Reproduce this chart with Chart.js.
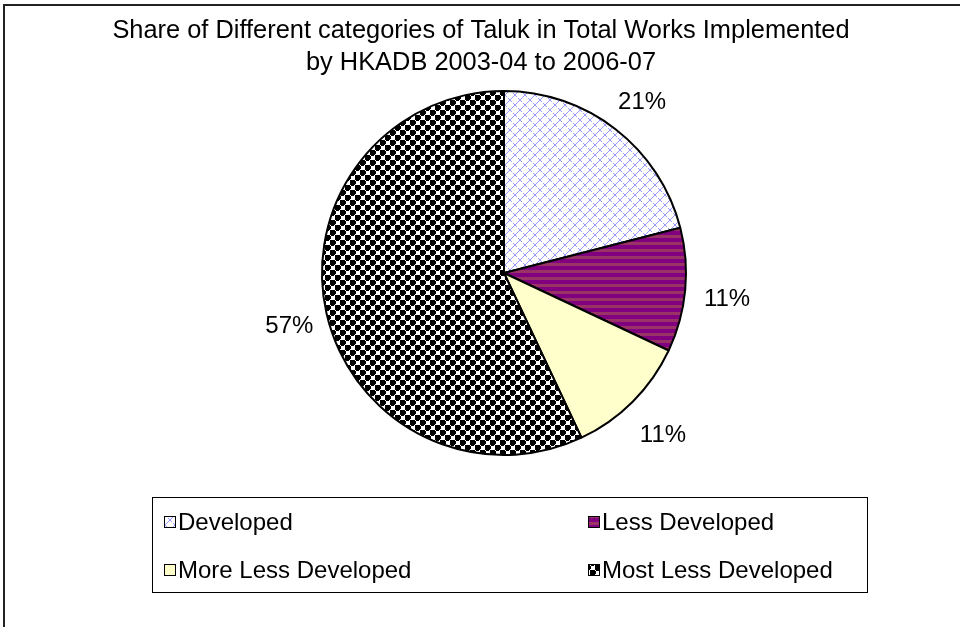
<!DOCTYPE html>
<html>
<head>
<meta charset="utf-8">
<script src="https://cdn.jsdelivr.net/npm/chart.js@4.4.0/dist/chart.umd.min.js"></script>
<style>
  body { margin: 0; background: #fff; }
  canvas { display: block; }
</style>
</head>
<body>
<canvas id="grafico" width="960" height="627"></canvas>
<script>
// dados do grafico
const categorias = ["Developed", "Less Developed", "More Less Developed", "Most Less Developed"];
const percentuais = [21, 11, 11, 57];
const rotulos = ["21%", "11%", "11%", "57%"];
const titulo = ["Share of Different categories of Taluk in Total Works Implemented", "by HKADB 2003-04 to 2006-07"];

const fonte = "Liberation Sans, Arial, sans-serif";

// padroes das fatias
function padraoDeveloped(ctx) {
    const n = 10;
    const c = document.createElement("canvas");
    c.width = n; c.height = n;
    const g = c.getContext("2d");
    g.fillStyle = "#fff";
    g.fillRect(0, 0, n, n);
    g.fillStyle = "#9999ff";
    for (let i = 0; i < n; i++) {
        g.fillRect(i, n - 1 - i, 1, 1);           // "/"
        if (i % 5 != 2) g.fillRect(i, i, 1, 1);   // "\" tracejado
    }
    return ctx.createPattern(c, "repeat");
}

function padraoLess(ctx) {
    const c = document.createElement("canvas");
    c.width = 8; c.height = 7;
    const g = c.getContext("2d");
    g.fillStyle = "#800080";
    g.fillRect(0, 0, 8, 7);
    g.fillStyle = "#993366";
    g.fillRect(0, 4, 8, 3);
    return ctx.createPattern(c, "repeat");
}

function padraoMost(ctx) {
    const n = 10;
    const c = document.createElement("canvas");
    c.width = n; c.height = n;
    const g = c.getContext("2d");
    g.fillStyle = "#fff";
    g.fillRect(0, 0, n, n);
    g.fillStyle = "#000";
    g.fillRect(0, 0, 5, 5);
    g.fillRect(5, 5, 5, 5);
    g.fillRect(1, 5, 3, 1);
    g.fillRect(6, 0, 3, 1);
    g.fillRect(5, 1, 1, 3);
    g.fillRect(0, 6, 1, 3);
    return ctx.createPattern(c, "repeat");
}

const ctx = document.getElementById("grafico").getContext("2d");
const cores = [padraoDeveloped(ctx), padraoLess(ctx), "#ffffcc", padraoMost(ctx)];

// plugin para titulo, rotulos, legenda e moldura
const extras = {
    id: "extras",
    afterDraw(chart) {
        const c = chart.ctx;
        c.save();

        // moldura
        c.strokeStyle = "#222";
        c.lineWidth = 2;
        c.beginPath();
        c.moveTo(4, 640);
        c.lineTo(4, 5);
        c.lineTo(970, 5);
        c.stroke();

        // titulo
        c.fillStyle = "#000";
        c.font = "25.4px " + fonte;
        c.textAlign = "center";
        c.textBaseline = "middle";
        c.fillText(titulo[0], 481, 31);
        c.fillText(titulo[1], 481, 63);

        // rotulos de porcentagem
        c.font = "24px " + fonte;
        const meta = chart.getDatasetMeta(0);
        meta.data.forEach((arc, i) => {
            const p = arc.getProps(["startAngle", "endAngle", "outerRadius", "x", "y"], true);
            const meio = (p.startAngle + p.endAngle) / 2;
            const r = p.outerRadius + 40;
            c.fillText(rotulos[i], p.x + Math.cos(meio) * r + 2, p.y + Math.sin(meio) * r + 5);
        });

        // legenda
        c.lineWidth = 1;
        c.strokeStyle = "#000";
        c.strokeRect(152.5, 497.5, 715, 95);
        const colunas = [164, 588];
        const linhas = [522, 570];
        c.textAlign = "left";
        categorias.forEach((nome, i) => {
            const x = colunas[i % 2];
            const y = linhas[Math.floor(i / 2)];
            c.fillStyle = cores[i];
            c.fillRect(x, y - 6, 12, 12);
            c.strokeRect(x + 0.5, y - 5.5, 11, 11);
            c.fillStyle = "#000";
            c.fillText(nome, x + 14, y + 1);
        });

        c.restore();
    }
};

new Chart(ctx, {
    type: "pie",
    data: {
        labels: categorias,
        datasets: [{
            data: percentuais,
            backgroundColor: cores,
            borderColor: "#000",
            borderWidth: 2
        }]
    },
    options: {
        responsive: false,
        animation: false,
        layout: {
            padding: { top: 90, bottom: 171, left: 321, right: 273 }
        },
        plugins: {
            legend: { display: false },
            title: { display: false },
            tooltip: { enabled: false }
        }
    },
    plugins: [extras]
});
</script>
</body>
</html>
